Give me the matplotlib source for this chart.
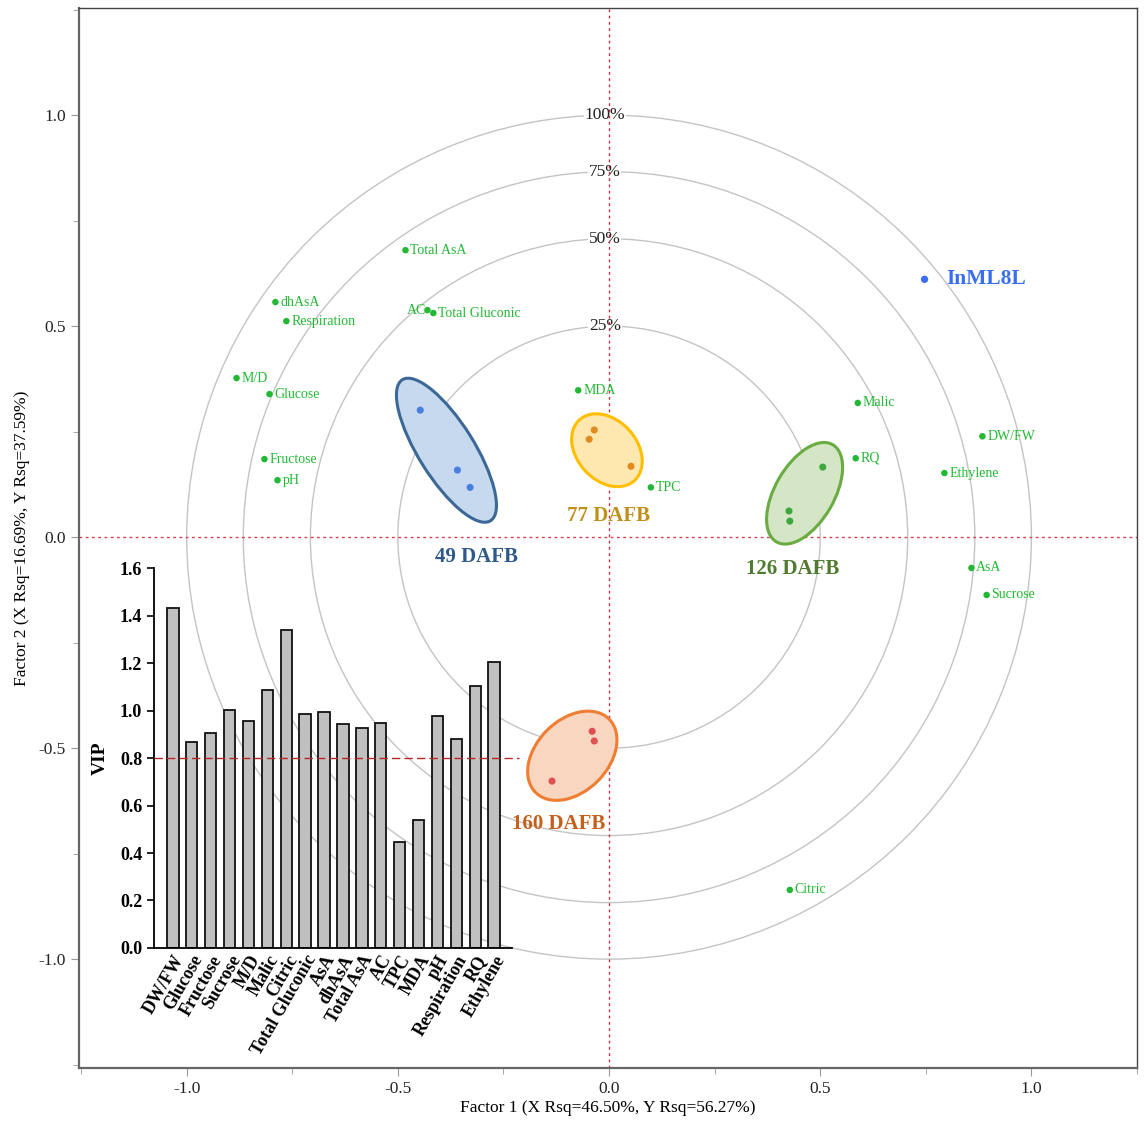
import matplotlib

matplotlib.use("Agg")
import matplotlib.pyplot as plt
import numpy as np
from matplotlib.patches import Circle, Ellipse

plt.rcParams["font.family"] = ["Liberation Serif", "DejaVu Serif"]

# ---------- loadings (green points) ----------
VAR_NAMES = ["Total AsA", "dhAsA", "Respiration", "AC", "Total Gluconic", "M/D",
             "Glucose", "Fructose", "pH", "MDA", "TPC", "Malic", "RQ", "DW/FW",
             "Ethylene", "AsA", "Sucrose", "Citric"]
VAR_X = [-0.482, -0.790, -0.764, -0.430, -0.416, -0.882, -0.804, -0.816, -0.785,
         -0.073, 0.099, 0.589, 0.584, 0.884, 0.794, 0.858, 0.894, 0.428]
VAR_Y = [0.680, 0.557, 0.512, 0.538, 0.531, 0.377, 0.339, 0.185, 0.135,
         0.348, 0.118, 0.318, 0.187, 0.239, 0.152, -0.073, -0.137, -0.836]

# ---------- response ----------
RESP_NAME = "InML8L"
RESP_XY = (0.747, 0.611)

# ---------- sample scores per group ----------
GROUPS = ["49 DAFB", "77 DAFB", "126 DAFB", "160 DAFB"]
GROUP_X = [[-0.447, -0.359, -0.329],
           [-0.035, -0.047, 0.052],
           [0.506, 0.426, 0.428],
           [-0.040, -0.035, -0.135]]
GROUP_Y = [[0.301, 0.159, 0.118],
           [0.254, 0.232, 0.168],
           [0.166, 0.062, 0.038],
           [-0.460, -0.483, -0.578]]
# confidence ellipses: centre x, centre y, semi-major, semi-minor, angle (deg)
ELL_CX = [-0.385, -0.005, 0.463, -0.087]
ELL_CY = [0.206, 0.206, 0.104, -0.518]
ELL_A = [0.197, 0.097, 0.133, 0.123]
ELL_B = [0.066, 0.071, 0.070, 0.085]
ELL_ANG = [-58, -48, 60, 45]

# ---------- VIP ----------
VIP_NAMES = ["DW/FW", "Glucose", "Fructose", "Sucrose", "M/D", "Malic", "Citric",
             "Total Gluconic", "AsA", "dhAsA", "Total AsA", "AC", "TPC", "MDA",
             "pH", "Respiration", "RQ", "Ethylene"]
VIP_VALUES = [1.430, 0.866, 0.905, 1.001, 0.956, 1.085, 1.340, 0.987, 0.995,
              0.943, 0.926, 0.949, 0.448, 0.540, 0.975, 0.879, 1.102, 1.206]
VIP_CUTOFF = 0.8

RINGS = [1.0, np.sqrt(0.75), np.sqrt(0.5), 0.5]
RING_LABELS = ["100%", "75%", "50%", "25%"]

DOT_COLORS = ["#4a7fe0", "#e08a20", "#3ea83e", "#e05050"]
EDGE_COLORS = ["#3b6896", "#ffbf00", "#6aab42", "#ef7d32"]
FACE_COLORS = ["#c6d9ee", "#ffe7b0", "#d4e6c6", "#f8d6c0"]
LABEL_COLORS = ["#2e5a8a", "#c0901a", "#4f7a30", "#c55f1c"]
LABEL_POS = [(-0.315, -0.046), (0.0, 0.05), (0.435, -0.076), (-0.12, -0.679)]

fig = plt.figure(figsize=(11.45, 11.24), dpi=100)
ax = fig.add_axes([0.069, 0.0498, 0.924, 0.9431])
ax.set_xlim(-1.255, 1.245)
ax.set_ylim(-1.258, 1.254)

for r in RINGS:
    ax.add_patch(Circle((0, 0), r, fill=False, ec="#c4c4c4", lw=1.0, zorder=1))
for r, lab in zip(RINGS, RING_LABELS):
    ax.text(-0.01, r, lab, ha="center", va="center", fontsize=12.5,
            color="#222222", zorder=2,
            bbox=dict(fc="white", ec="none", pad=0.5))

ax.axhline(0, color="#d8404f", ls=(0, (2, 2.5)), lw=1.0, zorder=2)
ax.axvline(0, color="#c03048", ls=(0, (2, 2.5)), lw=1.0, zorder=2)

for i, g in enumerate(GROUPS):
    ax.add_patch(Ellipse((ELL_CX[i], ELL_CY[i]), 2 * ELL_A[i], 2 * ELL_B[i],
                         angle=ELL_ANG[i], fc=FACE_COLORS[i], ec=EDGE_COLORS[i],
                         lw=2.2, zorder=3))
    ax.scatter(GROUP_X[i], GROUP_Y[i], s=26, color=DOT_COLORS[i], zorder=4,
               edgecolor="none")
    lx, ly = LABEL_POS[i]
    ax.text(lx, ly, g, ha="center", va="center", fontsize=15,
            fontweight="bold", color=LABEL_COLORS[i], zorder=5)

ax.scatter(VAR_X, VAR_Y, s=22, color="#22b833", edgecolor="none", zorder=4)
for name, x, y in zip(VAR_NAMES, VAR_X, VAR_Y):
    if name == "AC":
        ax.annotate(name, (x, y), xytext=(-1, 0), textcoords="offset points",
                    ha="right", va="center", fontsize=10, color="#22b833")
    else:
        ax.annotate(name, (x, y), xytext=(3.5, 0), textcoords="offset points",
                    ha="left", va="center", fontsize=10, color="#22b833")

ax.scatter([RESP_XY[0]], [RESP_XY[1]], s=28, color="#3a6ef0", edgecolor="none",
           zorder=4)
ax.annotate(RESP_NAME, RESP_XY, xytext=(16, 0), textcoords="offset points",
            ha="left", va="center", fontsize=15.5, fontweight="bold",
            color="#3a6ef0")

ax.set_xticks([-1.0, -0.5, 0.0, 0.5, 1.0])
ax.set_yticks([-1.0, -0.5, 0.0, 0.5, 1.0])
ax.set_xticks(np.arange(-1.25, 1.26, 0.25), minor=True)
ax.set_yticks(np.arange(-1.25, 1.26, 0.25), minor=True)
ax.tick_params(which="major", length=6, color="#999999", labelsize=12.5,
               labelcolor="#222222")
ax.tick_params(which="minor", length=4, color="#999999")
ax.xaxis.set_major_formatter(matplotlib.ticker.FormatStrFormatter("%.1f"))
ax.yaxis.set_major_formatter(matplotlib.ticker.FormatStrFormatter("%.1f"))
for side in ("left", "bottom"):
    ax.spines[side].set_color("#666666")
    ax.spines[side].set_linewidth(1.6)
for side in ("top", "right"):
    ax.spines[side].set_color("#444444")
    ax.spines[side].set_linewidth(1.0)
ax.set_xlabel("Factor 1 (X Rsq=46.50%, Y Rsq=56.27%)", fontsize=12.5, labelpad=2)
ax.set_ylabel("Factor 2 (X Rsq=16.69%, Y Rsq=37.59%)", fontsize=12.5, labelpad=6)

# ---------- inset VIP bar chart ----------
ins = fig.add_axes([0.1345, 0.1566, 0.3127, 0.338])
ins.patch.set_alpha(0)
pos = np.arange(len(VIP_NAMES))
ins.bar(pos, VIP_VALUES, width=0.6, color="#c0c0c0", edgecolor="#111111",
        lw=1.3, zorder=2)
ins.plot([-1, 18.3], [VIP_CUTOFF, VIP_CUTOFF], color="#b82525",
         ls=(0, (6, 3)), lw=1.0, clip_on=False, zorder=3)
ins.set_xlim(-1.0, 17.95)
ins.set_ylim(0, 1.6)
ins.set_yticks(np.arange(0, 1.61, 0.2))
ins.yaxis.set_major_formatter(matplotlib.ticker.FormatStrFormatter("%.1f"))
ins.set_xticks(pos)
ins.set_xticklabels(VIP_NAMES, rotation=60, ha="right", rotation_mode="anchor",
                    fontweight="bold", fontsize=13)
for lab in ins.get_yticklabels():
    lab.set_fontweight("bold")
ins.tick_params(axis="y", labelsize=13, length=5, width=1.2)
ins.tick_params(axis="x", length=0, pad=3)
ins.spines["top"].set_visible(False)
ins.spines["right"].set_visible(False)
ins.spines["left"].set_linewidth(1.3)
ins.spines["bottom"].set_linewidth(1.3)
ins.set_ylabel("VIP", fontsize=14, fontweight="bold", labelpad=8)

fig.savefig("out.png", dpi=100)
